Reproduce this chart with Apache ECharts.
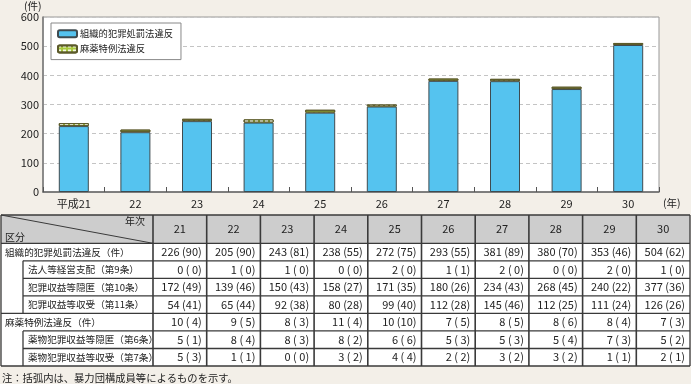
<!DOCTYPE html>
<html><head><meta charset="utf-8">
<script src="https://cdn.jsdelivr.net/npm/echarts@6/dist/echarts.min.js"></script>
<style>html,body{margin:0;padding:0;background:#f3efe8}#c{width:691px;height:384px}</style>
</head><body><div id="c"></div>
<script>
const FONT = '"Noto Sans CJK JP", "Noto Sans", sans-serif';
const xLabels = ['平成21','22','23','24','25','26','27','28','29','30'];
const years = ['21','22','23','24','25','26','27','28','29','30'];
const yTicks = [0,100,200,300,400,500,600];
const seriesNames = ['組織的犯罪処罰法違反','麻薬特例法違反'];

const soshiki   = [226,205,243,238,272,293,381,380,353,504];
const soshikiP  = [90,90,81,55,75,55,89,70,46,62];
const hojin     = [0,1,1,0,2,1,2,0,2,1];
const hojinP    = [0,0,0,0,0,1,0,0,0,0];
const inpei     = [172,139,150,158,171,180,234,268,240,377];
const inpeiP    = [49,46,43,27,35,26,43,45,22,36];
const shuju     = [54,65,92,80,99,112,145,112,111,126];
const shujuP    = [41,44,38,28,40,28,46,25,24,26];
const mayaku    = [10,9,8,11,10,7,8,8,8,7];
const mayakuP   = [4,5,3,4,10,5,5,6,4,3];
const yInpei    = [5,8,8,8,6,5,5,5,7,5];
const yInpeiP   = [1,4,3,2,6,3,3,4,3,2];
const yShuju    = [5,1,0,3,4,2,3,3,1,2];
const yShujuP   = [3,1,0,2,4,2,2,2,1,1];

const rowLabels = ['組織的犯罪処罰法違反（件）','法人等経営支配（第9条）','犯罪収益等隠匿（第10条）','犯罪収益等収受（第11条）','麻薬特例法違反（件）','薬物犯罪収益等隠匿（第6条）','薬物犯罪収益等収受（第7条）'];
const rowVals = [soshiki,hojin,inpei,shuju,mayaku,yInpei,yShuju];
const rowParens = [soshikiP,hojinP,inpeiP,shujuP,mayakuP,yInpeiP,yShujuP];
const rowIndent = [false,true,true,true,false,true,true];
const headerCorner = ['年次','区分'];
const note = '注：括弧内は、暴力団構成員等によるものを示す。';

// table layout
const tL = 1, tR = 690, c0 = 153, tTop = 215, hB = 243.3, rowH = 17.53, indX = 23;
const colW = (tR - c0) / years.length;
const lineC = '#3a3a3a';
const g = [];
g.push({type:'rect', shape:{x:tL,y:tTop,width:tR-tL,height:hB-tTop}, style:{fill:'#cdcdcd'}});
g.push({type:'rect', shape:{x:tL,y:hB,width:tR-tL,height:rowH*rowLabels.length}, style:{fill:'#ffffff'}});
function hl(x1,x2,y,w){g.push({type:'line',shape:{x1:x1,y1:y,x2:x2,y2:y},style:{stroke:lineC,lineWidth:w||1.3}});}
function vl(x,y1,y2,w){g.push({type:'line',shape:{x1:x,y1:y1,x2:x,y2:y2},style:{stroke:lineC,lineWidth:w||1.3}});}
const tBot = hB + rowH*rowLabels.length;
hl(tL,tR,tTop); hl(tL,tR,hB); hl(tL,tR,tBot);
for (let r=1;r<rowLabels.length;r++){
  const y = hB + r*rowH;
  hl(rowIndent[r] ? indX : tL, tR, y);
}
vl(tL,tTop,tBot); vl(tR,tTop,tBot); vl(c0,tTop,tBot,1.6);
for (let i=1;i<years.length;i++) vl(c0+i*colW,tTop,tBot,1.6);
let r=0;
while (r<rowLabels.length){
  if (rowIndent[r]){ let s=r; while(r<rowLabels.length && rowIndent[r]) r++; vl(indX,hB+s*rowH,hB+r*rowH); }
  else r++;
}
g.push({type:'line',shape:{x1:tL,y1:tTop,x2:c0,y2:hB},style:{stroke:lineC,lineWidth:1}});
g.push({type:'text',style:{text:headerCorner[0],x:c0-8,y:tTop+6,textAlign:'right',textVerticalAlign:'middle',font:'10px '+FONT,fill:'#222'}});
g.push({type:'text',style:{text:headerCorner[1],x:5,y:hB-6,textAlign:'left',textVerticalAlign:'middle',font:'10px '+FONT,fill:'#222'}});
years.forEach((y,i)=>{
  g.push({type:'text',style:{text:y,x:c0+(i+0.5)*colW,y:(tTop+hB)/2,textAlign:'center',textVerticalAlign:'middle',font:'11px '+FONT,fill:'#222'}});
});
rowLabels.forEach((lab,ri)=>{
  const cy = hB + (ri+0.5)*rowH;
  g.push({type:'text',style:{text:lab,x:rowIndent[ri]?28:5,y:cy,textAlign:'left',textVerticalAlign:'middle',font:'9.6px '+FONT,fill:'#222'}});
  rowVals[ri].forEach((v,ci)=>{
    const p = rowParens[ri][ci];
    const t = v + ' (' + (p<10 ? ' '+p : p) + ')';
    g.push({type:'text',style:{text:t,x:c0+(ci+1)*colW-5,y:cy,textAlign:'right',textVerticalAlign:'middle',font:'11px '+FONT,fill:'#222'}});
  });
});
g.push({type:'text',style:{text:note,x:2,y:378,textAlign:'left',textVerticalAlign:'middle',font:'10.3px '+FONT,fill:'#222'}});
g.push({type:'text',style:{text:'(件)',x:24,y:6,textAlign:'left',textVerticalAlign:'middle',font:'10.5px '+FONT,fill:'#222'}});
g.push({type:'text',style:{text:'(年)',x:663,y:203,textAlign:'left',textVerticalAlign:'middle',font:'10.5px '+FONT,fill:'#222'}});

const chart = echarts.init(document.getElementById('c'));
chart.setOption({
  backgroundColor:'#f3efe8',
  animation:false,
  textStyle:{fontFamily:FONT},
  grid:{left:43,right:32,top:17,bottom:192,show:true,backgroundColor:'#ffffff',borderColor:'#999',borderWidth:1},
  legend:{left:51,top:23,orient:'vertical',padding:[6,8,6,6],itemGap:6,itemWidth:19,itemHeight:7,
    backgroundColor:'#fff',borderColor:'#888',borderWidth:1,
    textStyle:{fontSize:9.3,color:'#222',fontFamily:FONT,padding:[0,0,0,-2]},data:seriesNames},
  xAxis:{type:'category',data:xLabels,
    axisLine:{lineStyle:{color:'#666',width:1.5}},
    axisTick:{show:true,inside:true,length:5,lineStyle:{color:'#555'}},
    axisLabel:{fontSize:11,color:'#222',margin:6,fontFamily:FONT}},
  yAxis:{type:'value',min:yTicks[0],max:yTicks[yTicks.length-1],interval:100,
    axisLine:{show:true,lineStyle:{color:'#777',width:1.5}},
    axisTick:{show:false},
    axisLabel:{fontSize:11,color:'#222',margin:4,fontFamily:FONT},
    splitLine:{lineStyle:{color:'#c4c4c4',type:[4,3]}}},
  series:[
    {name:seriesNames[0],type:'bar',stack:'a',data:soshiki,barWidth:30,
      itemStyle:{color:'#55c3ef',borderColor:'#3f4b50',borderWidth:1}},
    {name:seriesNames[1],type:'bar',stack:'a',data:mayaku,barWidth:30,
      itemStyle:{color:'#a9c93e',borderColor:'#5c5a2a',borderWidth:1,
        decal:{symbol:'rect',symbolSize:1,color:'rgba(255,255,255,0.85)',dashArrayX:[3,2],dashArrayY:[2,2]}}}
  ],
  graphic:g
});
</script></body></html>
